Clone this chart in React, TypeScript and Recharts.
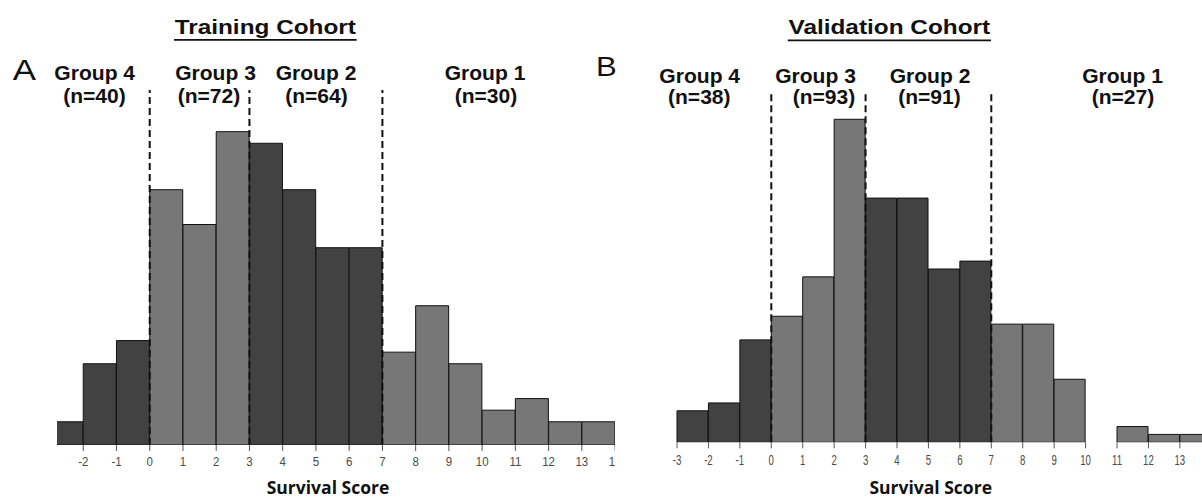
import { BarChart, Bar, Cell, XAxis, YAxis, ReferenceLine } from "recharts";

// histogram bins: each bin starts at the value and is 1 unit wide
const BIN_STARTS = [-3, -2, -1, 0, 1, 2, 3, 4, 5, 6, 7, 8, 9, 10, 11, 12, 13];
const TRAINING_COUNTS = [2, 7, 9, 22, 19, 27, 26, 22, 17, 17, 8, 12, 7, 3, 4, 2, 2];
const VALIDATION_COUNTS = [4, 5, 13, 16, 21, 41, 31, 31, 22, 23, 15, 15, 8, 0, 2, 1, 1];
const SCORE_TICKS = [-3, -2, -1, 0, 1, 2, 3, 4, 5, 6, 7, 8, 9, 10, 11, 12, 13, 14];

// score cut points between the risk groups
const GROUP_CUTS = [0, 3, 7];
const GROUP_NAMES = ["Group 4", "Group 3", "Group 2", "Group 1"];
const TRAINING_N = [40, 72, 64, 30];
const VALIDATION_N = [38, 93, 91, 27];

const DARK = "#424242";
const LIGHT = "#777777";
const FONT = "'Liberation Sans', Arial, sans-serif";

const groupOf = (start: number) => GROUP_CUTS.filter((c) => start >= c).length;

const toRows = (counts: number[]) =>
  BIN_STARTS.map((start, i) => ({
    bin: String(start),
    start,
    count: counts[i],
    group: groupOf(start),
  }));

type PanelLayout = {
  left: number; // pixel x of score -3
  top: number;
  plotW: number;
  plotH: number;
  yMax: number;
  clipL: number;
  clipR: number;
  tickMargin: number;
  tickFont: number;
  tickScale: number;
};

const makeTick = (fontSize: number, sx: number) => (props: any) => {
  const { x, y, payload } = props;
  return (
    <text
      x={0}
      y={0}
      transform={`translate(${x},${y}) scale(${sx},1)`}
      textAnchor="middle"
      dy="0.71em"
      fontSize={fontSize}
      fontFamily={FONT}
      fill="#4a4a4a"
    >
      {payload.value}
    </text>
  );
};

const Panel = ({ counts, layout }: { counts: number[]; layout: PanelLayout }) => {
  const rows = toRows(counts);
  const h = layout.plotH + 40;
  return (
    <div
      style={{
        position: "absolute",
        left: layout.clipL,
        top: layout.top,
        width: layout.clipR - layout.clipL,
        height: h,
        overflow: "hidden",
      }}
    >
      <div style={{ position: "absolute", left: layout.left - 10 - layout.clipL, top: 0 }}>
        <BarChart
          width={layout.plotW + 10}
          height={h}
          data={rows}
          margin={{ top: 0, right: 0, bottom: 0, left: 10 }}
          barCategoryGap={0}
          barGap={0}
        >
          <XAxis
            xAxisId="num"
            dataKey="start"
            type="number"
            domain={[-3, 14]}
            ticks={SCORE_TICKS}
            interval={0}
            allowDataOverflow
            axisLine={false}
            tickSize={6}
            tickLine={{ stroke: "#555" }}
            tickMargin={layout.tickMargin}
            tick={makeTick(layout.tickFont, layout.tickScale)}
            height={40}
          />
          <XAxis xAxisId="cat" dataKey="bin" type="category" hide height={0} />
          <YAxis hide domain={[0, layout.yMax]} allowDataOverflow />
          <Bar xAxisId="cat" dataKey="count" stroke="#111" strokeWidth={1} isAnimationActive={false}>
            {rows.map((r) => (
              <Cell key={r.bin} fill={r.group % 2 === 0 ? DARK : LIGHT} />
            ))}
          </Bar>
          {GROUP_CUTS.map((c) => (
            <ReferenceLine
              key={c}
              xAxisId="num"
              x={c}
              stroke="#111"
              strokeWidth={2}
              strokeDasharray="7 4"
            />
          ))}
        </BarChart>
      </div>
    </div>
  );
};

const TRAINING_LAYOUT: PanelLayout = {
  left: 50.3,
  top: 90,
  plotW: 565.1,
  plotH: 355,
  yMax: 30.59,
  clipL: 56.7,
  clipR: 615,
  tickMargin: 5,
  tickFont: 13.5,
  tickScale: 0.85,
};

const VALIDATION_LAYOUT: PanelLayout = {
  left: 676.7,
  top: 93,
  plotW: 534.3,
  plotH: 349.3,
  yMax: 44.34,
  clipL: 660,
  clipR: 1202,
  tickMargin: 6.5,
  tickFont: 15,
  tickScale: 0.64,
};

// label centres for the group captions
const TRAINING_GROUP_X = [94.7, 215.5, 316, 485];
const TRAINING_N_X = [94.5, 209, 316.5, 486];
const VALIDATION_GROUP_X = [699.7, 815.5, 930, 1122.5];
const VALIDATION_N_X = [699.3, 824, 929.5, 1123];

const Txt = ({ x, y, s = 1, size, bold = true, children, family = FONT }: any) => (
  <text
    x={0}
    y={0}
    transform={`translate(${x},${y}) scale(${s},1)`}
    textAnchor="middle"
    fontSize={size}
    fontWeight={bold ? 700 : 400}
    fontFamily={family}
    fill="#111"
  >
    {children}
  </text>
);

const Overlay = () => (
  <svg
    width={1202}
    height={497}
    style={{ position: "absolute", left: 0, top: 0, pointerEvents: "none" }}
  >
    <Txt x={265.3} y={33.5} s={1.16} size={21}>Training Cohort</Txt>
    <line x1={174} x2={356.7} y1={39.8} y2={39.8} stroke="#111" strokeWidth={1.8} />
    <Txt x={889.3} y={34} s={1.16} size={21}>Validation Cohort</Txt>
    <line x1={787.7} x2={991} y1={40.3} y2={40.3} stroke="#111" strokeWidth={1.8} />

    <Txt x={24.3} y={80} s={1.2} size={29} bold={false}>A</Txt>
    <Txt x={606.3} y={76} s={1.15} size={27} bold={false}>B</Txt>

    {GROUP_NAMES.map((g, i) => (
      <g key={"t" + g}>
        <Txt x={TRAINING_GROUP_X[i]} y={80} s={1.08} size={19.5}>{g}</Txt>
        <Txt x={TRAINING_N_X[i]} y={102.5} s={1.08} size={19.5}>{`(n=${TRAINING_N[i]})`}</Txt>
      </g>
    ))}
    {GROUP_NAMES.map((g, i) => (
      <g key={"v" + g}>
        <Txt x={VALIDATION_GROUP_X[i]} y={82.5} s={1.08} size={19.5}>{g}</Txt>
        <Txt x={VALIDATION_N_X[i]} y={104} s={1.08} size={19.5}>{`(n=${VALIDATION_N[i]})`}</Txt>
      </g>
    ))}

    <Txt x={328} y={494} size={17.5} family="'Open Sans', sans-serif">Survival Score</Txt>
    <Txt x={930.7} y={494} size={17.5} family="'Open Sans', sans-serif">Survival Score</Txt>
  </svg>
);

export default function App() {
  return (
    <div
      style={{
        position: "absolute",
        left: 0,
        top: 0,
        width: 1202,
        height: 497,
        overflow: "hidden",
        background: "#fff",
      }}
    >
      <Panel counts={TRAINING_COUNTS} layout={TRAINING_LAYOUT} />
      <Panel counts={VALIDATION_COUNTS} layout={VALIDATION_LAYOUT} />
      <Overlay />
    </div>
  );
}
